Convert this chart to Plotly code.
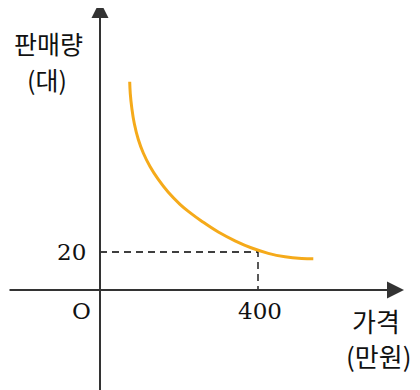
import plotly.graph_objects as go

# data (price in 만원, sales in 대)
price = [75.2, 76.7, 80.3, 86.8, 97.0, 109.6, 126.6, 147.6, 172.9, 202.5, 227.8, 257.5,
         299.5, 341.8, 384.1, 426.1, 468.4, 510.6, 540.0]
sales = [109.6, 103.2, 96.1, 87.6, 79.2, 72.1, 65.0, 58.2, 51.4, 45.1, 40.7, 36.2,
         30.5, 25.9, 22.1, 19.3, 17.5, 16.6, 16.4]
mark_x = 400
mark_y = 20
x_tick_labels = ["400"]
y_tick_labels = ["20"]

W, H = 420, 390
OFF = 8                    # page body margin offset
OX, OY = 100, 290          # screen pixel position of origin
SX = (258 - 100) / 400.0   # px per unit x
SY = (290 - 252) / 20.0    # px per unit y

def dx(px):
    return (px - OX) / SX

def dy(py):
    return (OY - py) / SY

fig = go.Figure()

# dashed guides
fig.add_trace(go.Scatter(x=[0, mark_x, mark_x], y=[mark_y, mark_y, 0], mode="lines",
                         line=dict(color="black", width=1.3, dash="7px,5px"),
                         hoverinfo="skip", showlegend=False))
# curve
fig.add_trace(go.Scatter(x=price, y=sales, mode="lines",
                         line=dict(color="#F5AA1A", width=3, shape="spline", smoothing=1.2),
                         hoverinfo="skip", showlegend=False))

axis_col = "#333333"
# x axis arrow
fig.add_annotation(x=dx(404), y=0, ax=dx(8), ay=0, xref="x", yref="y", axref="x", ayref="y",
                   showarrow=True, arrowhead=2, arrowsize=1.7, arrowwidth=2, arrowcolor=axis_col, text="")
# y axis arrow
fig.add_annotation(x=0, y=dy(1), ax=0, ay=dy(392), xref="x", yref="y", axref="x", ayref="y",
                   showarrow=True, arrowhead=2, arrowsize=1.7, arrowwidth=2, arrowcolor=axis_col, text="")

serif = "DejaVu Serif, Liberation Serif, serif"
kr = "Noto Sans CJK KR, sans-serif"

def txt(s, px, py, font, size):
    fig.add_annotation(x=dx(px), y=dy(py), xref="x", yref="y", text=s, showarrow=False,
                       font=dict(family=font, size=size, color="#111111"),
                       xanchor="center", yanchor="middle")

txt(y_tick_labels[0], 71, 252, serif, 23)
txt(x_tick_labels[0], 260, 311, serif, 23)
txt("O", 81, 311, serif, 23)
txt("판매량", 48, 43, kr, 25)
txt("(대)", 47, 79, kr, 25)
txt("가격", 376, 320, kr, 26)
txt("(만원)", 378, 355, kr, 26)

fig.update_layout(
    width=W, height=H, margin=dict(l=0, r=0, t=0, b=0),
    paper_bgcolor="white", plot_bgcolor="white",
    xaxis=dict(range=[dx(OFF), dx(W + OFF)], visible=False, fixedrange=True),
    yaxis=dict(range=[dy(H + OFF), dy(OFF)], visible=False, fixedrange=True),
    showlegend=False,
)
fig.write_html("out.html")
